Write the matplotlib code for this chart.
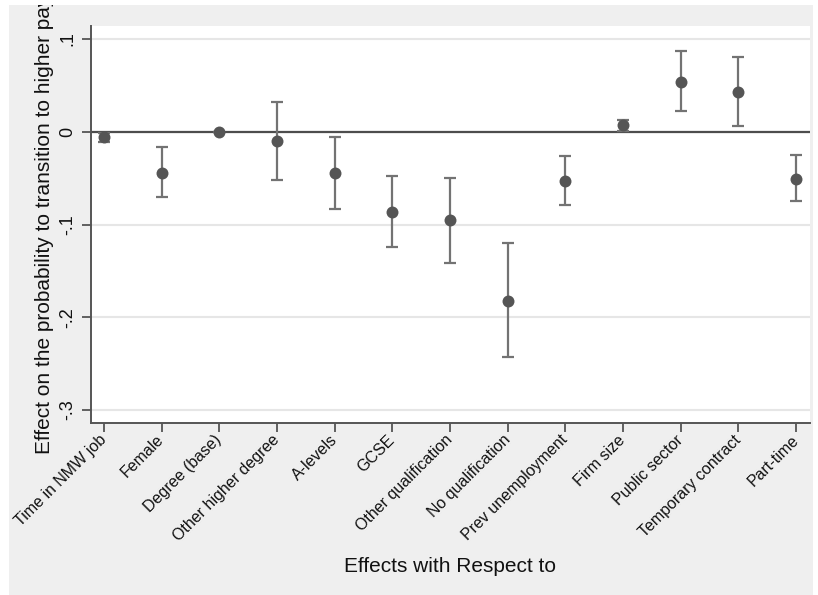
import matplotlib
matplotlib.use("Agg")
import matplotlib.pyplot as plt
from matplotlib.patches import Rectangle
from matplotlib.transforms import Bbox, TransformedBbox

plt.rcParams['font.family'] = ['Liberation Sans', 'DejaVu Sans']

categories = ["Time in NMW job", "Female", "Degree (base)", "Other higher degree",
              "A-levels", "GCSE", "Other qualification", "No qualification",
              "Prev unemployment", "Firm size", "Public sector",
              "Temporary contract", "Part-time"]
estimates = [-0.006, -0.044, 0.000, -0.010, -0.045, -0.086, -0.095, -0.182,
             -0.053, 0.007, 0.054, 0.043, -0.051]
ci_low = [-0.011, -0.070, 0.000, -0.052, -0.083, -0.124, -0.141, -0.243,
          -0.079, 0.001, 0.022, 0.006, -0.075]
ci_high = [-0.001, -0.016, 0.000, 0.032, -0.006, -0.048, -0.050, -0.120,
           -0.026, 0.013, 0.087, 0.081, -0.025]
y_ticks = [-0.3, -0.2, -0.1, 0.0, 0.1]
y_tick_labels = ["-.3", "-.2", "-.1", "0", ".1"]

W, H = 818, 595
fig = plt.figure(figsize=(W / 100, H / 100), dpi=100, facecolor="white")

# grey graph region
bg_l, bg_r, bg_t, bg_b = 9, 813, 5, 595
bg = Rectangle((bg_l / W, 1 - bg_b / H), (bg_r - bg_l) / W, (bg_b - bg_t) / H,
               transform=fig.transFigure, facecolor="#efefef", edgecolor="none",
               zorder=-10)
fig.patches.append(bg)

ax_l, ax_r, ax_t, ax_b = 91, 810, 26, 423
ax = fig.add_axes([ax_l / W, 1 - ax_b / H, (ax_r - ax_l) / W, (ax_b - ax_t) / H])
ax.set_zorder(1)
ax.set_facecolor("white")

x = list(range(1, len(categories) + 1))

for yv in y_ticks:
    ax.axhline(yv, color="#e6e6e6", lw=1.5, zorder=1)
ax.axhline(0, color="#4d4d4d", lw=1.6, zorder=2)

yerr = [[e - lo for e, lo in zip(estimates, ci_low)],
        [hi - e for e, hi in zip(estimates, ci_high)]]
ax.errorbar(x, estimates, yerr=yerr, fmt="none", ecolor="#737373",
            elinewidth=1.6, capsize=4.3, capthick=1.6, zorder=3)
ax.plot(x, estimates, "o", color="#555555", markersize=8.6, zorder=4,
        markeredgewidth=0)

ax.set_xlim(0.775, 13.24)
ax.set_ylim(-0.314, 0.114)

ax.set_yticks(y_ticks)
ax.set_yticklabels(y_tick_labels, rotation=90, va="center", fontsize=13)
ax.set_xticks(x)
ax.set_xticklabels(categories, rotation=45, ha="right", va="center",
                   rotation_mode="anchor", fontsize=11.5)

for s in ["top", "right"]:
    ax.spines[s].set_visible(False)
for s in ["left", "bottom"]:
    ax.spines[s].set_color("#555555")
    ax.spines[s].set_linewidth(1.4)
ax.tick_params(axis="both", length=6.5, width=1.3, color="#555555", labelcolor="#111111")
ax.tick_params(axis="y", pad=4)
ax.tick_params(axis="x", pad=4)

fig.text(((ax_l + ax_r) / 2) / W, 1 - 566 / H, "Effects with Respect to",
         ha="center", va="center", fontsize=15, color="#111111")

ylab = fig.text(45 / W, 1 - ((ax_t + ax_b) / 2) / H,
                "Effect on the probability to transition to higher pay",
                rotation=90, ha="center", va="center", fontsize=15, color="#111111")
clip = TransformedBbox(Bbox([[bg_l / W, 0], [bg_r / W, 1 - bg_t / H]]), fig.transFigure)
ylab.set_clip_box(clip)
ylab.set_clip_on(True)

fig.savefig("out.png", dpi=100, facecolor="white")
